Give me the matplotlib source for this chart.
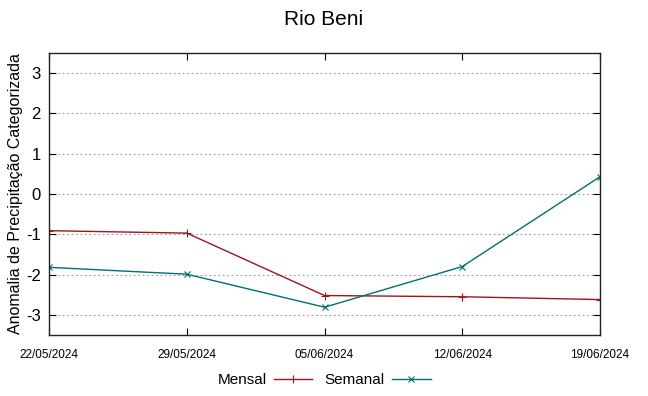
import matplotlib
matplotlib.use("Agg")
import matplotlib.pyplot as plt
import matplotlib.dates as mdates
from datetime import datetime

plt.rcParams['font.family'] = ['Liberation Sans', 'DejaVu Sans']
plt.rcParams['axes.unicode_minus'] = False

dates = ["22/05/2024", "29/05/2024", "05/06/2024", "12/06/2024", "19/06/2024"]
mensal = [-0.91, -0.97, -2.52, -2.55, -2.62]
semanal = [-1.82, -1.99, -2.81, -1.80, 0.43]
y_ticks = [-3, -2, -1, 0, 1, 2, 3]

x = [datetime.strptime(d, "%d/%m/%Y") for d in dates]

fig = plt.figure(figsize=(6.48, 3.96), dpi=100)
ax = fig.add_axes([0.0756, 0.154, 0.8504, 0.712])

ax.plot(x, mensal, color="#a0141e", lw=1.0, marker="+", ms=6, mew=0.8, label="Mensal")
ax.plot(x, semanal, color="#007070", lw=1.0, marker="x", ms=5, mew=0.8, label="Semanal")

ax.set_xlim(x[0], x[-1])
ax.set_ylim(-3.5, 3.5)
ax.set_yticks(y_ticks)
ax.set_xticks(x)
ax.xaxis.set_major_formatter(mdates.DateFormatter("%d/%m/%Y"))
ax.tick_params(axis="x", labelsize=8.5, direction="in", top=True, pad=10, length=5)
ax.tick_params(axis="y", labelsize=12, direction="in", right=True, length=5, pad=6)
ax.yaxis.grid(True, linestyle=(0, (1.5, 2.5)), color="#999999", lw=0.8)

for s in ax.spines.values():
    s.set_linewidth(1.0)
    s.set_color("#222222")

ax.set_ylabel("Anomalia de Precipitação Categorizada", fontsize=11.5, labelpad=2)
fig.suptitle("Rio Beni", fontsize=15, y=0.975)

fig.legend(loc="lower center", ncol=2, frameon=False, fontsize=11,
           bbox_to_anchor=(0.5, -0.012), markerfirst=False, handlelength=2.5,
           columnspacing=0.8, handletextpad=0.5)

fig.savefig("out.png", dpi=100)
